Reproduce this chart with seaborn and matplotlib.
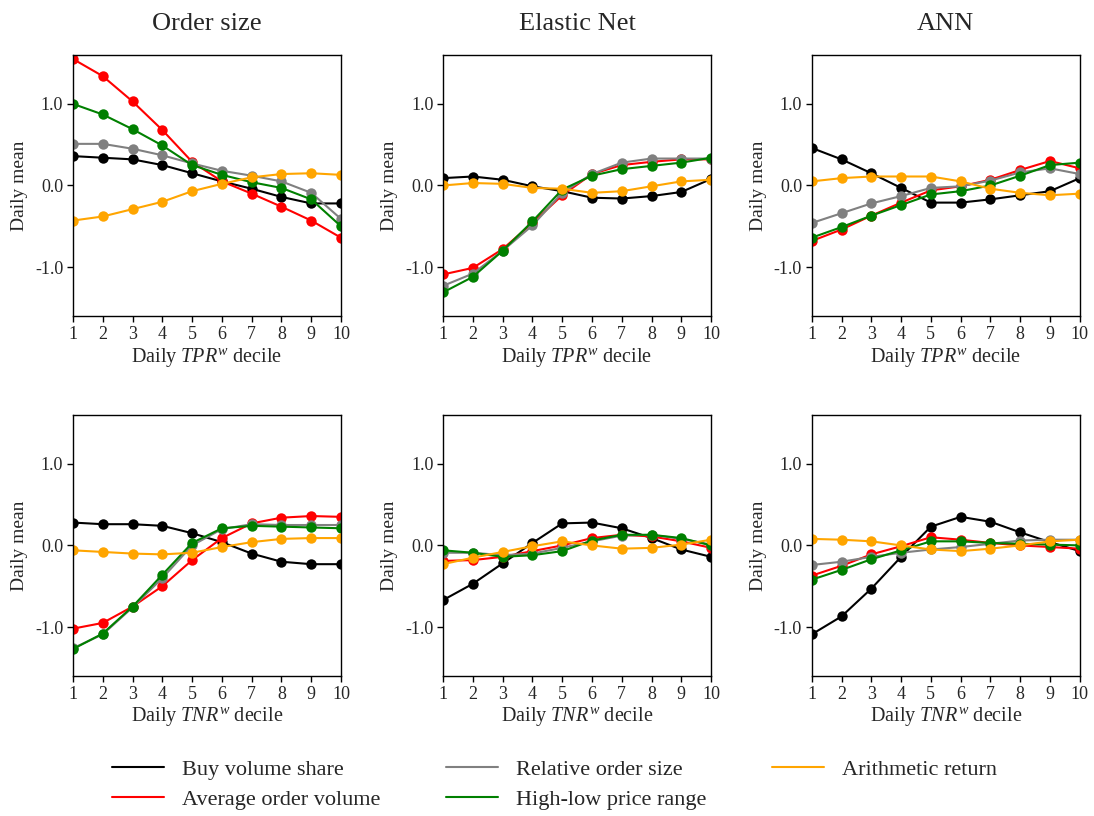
import numpy as np
import pandas as pd
import matplotlib
matplotlib.use("Agg")
import matplotlib.pyplot as plt
from matplotlib.lines import Line2D
from matplotlib.ticker import FixedLocator, FuncFormatter
import seaborn as sns

sns.set_style("ticks")
plt.rcParams["font.family"] = ["Liberation Serif", "DejaVu Serif"]
plt.rcParams["mathtext.fontset"] = "custom"
plt.rcParams["mathtext.rm"] = "Liberation Serif"
plt.rcParams["mathtext.it"] = "Liberation Serif:italic"
plt.rcParams["axes.unicode_minus"] = False

deciles = list(range(1, 10 + 1))
models = ["Order size", "Elastic Net", "ANN"]
targets = ["TPR", "TNR"]
series = ["Buy volume share", "Average order volume", "Relative order size",
          "High-low price range", "Arithmetic return"]
colors = {"Buy volume share": "black", "Average order volume": "red",
          "Relative order size": "grey", "High-low price range": "green",
          "Arithmetic return": "orange"}

# ---- TPR deciles ----
order_tpr_buy = [0.36, 0.34, 0.32, 0.25, 0.15, 0.05, -0.04, -0.14, -0.22, -0.22]
order_tpr_avg = [1.55, 1.34, 1.03, 0.68, 0.29, 0.05, -0.10, -0.26, -0.43, -0.64]
order_tpr_rel = [0.51, 0.51, 0.45, 0.37, 0.27, 0.18, 0.12, 0.05, -0.09, -0.41]
order_tpr_hl = [1.00, 0.87, 0.69, 0.49, 0.25, 0.13, 0.04, -0.03, -0.17, -0.50]
order_tpr_ret = [-0.43, -0.38, -0.29, -0.20, -0.07, 0.02, 0.10, 0.14, 0.15, 0.13]

enet_tpr_buy = [0.09, 0.11, 0.07, -0.01, -0.07, -0.15, -0.16, -0.13, -0.08, 0.08]
enet_tpr_avg = [-1.09, -1.01, -0.78, -0.46, -0.12, 0.14, 0.25, 0.29, 0.32, 0.32]
enet_tpr_rel = [-1.23, -1.08, -0.80, -0.49, -0.09, 0.14, 0.28, 0.33, 0.33, 0.33]
enet_tpr_hl = [-1.31, -1.12, -0.80, -0.44, -0.05, 0.12, 0.20, 0.24, 0.28, 0.34]
enet_tpr_ret = [0.00, 0.03, 0.02, -0.03, -0.04, -0.09, -0.07, -0.01, 0.05, 0.07]

ann_tpr_buy = [0.46, 0.32, 0.15, -0.03, -0.21, -0.21, -0.17, -0.12, -0.07, 0.09]
ann_tpr_avg = [-0.68, -0.54, -0.37, -0.21, -0.06, -0.01, 0.07, 0.19, 0.30, 0.21]
ann_tpr_rel = [-0.46, -0.34, -0.22, -0.13, -0.03, -0.01, 0.06, 0.16, 0.21, 0.14]
ann_tpr_hl = [-0.64, -0.51, -0.37, -0.24, -0.11, -0.07, 0.00, 0.12, 0.25, 0.28]
ann_tpr_ret = [0.05, 0.09, 0.11, 0.11, 0.11, 0.05, -0.04, -0.09, -0.12, -0.10]

# ---- TNR deciles ----
order_tnr_buy = [0.28, 0.26, 0.26, 0.24, 0.15, 0.04, -0.10, -0.20, -0.23, -0.23]
order_tnr_avg = [-1.02, -0.95, -0.75, -0.50, -0.18, 0.09, 0.27, 0.34, 0.36, 0.35]
order_tnr_rel = [-1.26, -1.09, -0.76, -0.40, 0.00, 0.20, 0.26, 0.25, 0.25, 0.25]
order_tnr_hl = [-1.27, -1.08, -0.75, -0.36, 0.03, 0.21, 0.24, 0.23, 0.22, 0.21]
order_tnr_ret = [-0.06, -0.08, -0.10, -0.11, -0.09, -0.02, 0.04, 0.08, 0.09, 0.09]

enet_tnr_buy = [-0.67, -0.47, -0.22, 0.03, 0.27, 0.28, 0.21, 0.09, -0.05, -0.14]
enet_tnr_avg = [-0.19, -0.18, -0.14, -0.07, 0.00, 0.09, 0.13, 0.11, 0.05, -0.03]
enet_tnr_rel = [-0.09, -0.09, -0.12, -0.10, -0.03, 0.05, 0.12, 0.13, 0.08, 0.01]
enet_tnr_hl = [-0.06, -0.09, -0.14, -0.12, -0.07, 0.06, 0.13, 0.13, 0.09, 0.00]
enet_tnr_ret = [-0.23, -0.15, -0.08, -0.01, 0.05, 0.00, -0.04, -0.03, 0.01, 0.07]

ann_tnr_buy = [-1.09, -0.87, -0.53, -0.14, 0.23, 0.35, 0.29, 0.16, 0.04, -0.07]
ann_tnr_avg = [-0.37, -0.25, -0.11, -0.01, 0.10, 0.07, 0.03, 0.00, -0.02, -0.04]
ann_tnr_rel = [-0.24, -0.20, -0.14, -0.09, -0.05, -0.02, 0.02, 0.06, 0.07, 0.07]
ann_tnr_hl = [-0.42, -0.30, -0.17, -0.06, 0.05, 0.05, 0.03, 0.02, 0.01, 0.00]
ann_tnr_ret = [0.08, 0.07, 0.05, 0.00, -0.05, -0.07, -0.04, 0.00, 0.05, 0.07]

panels = {
    ("TPR", "Order size"): [order_tpr_buy, order_tpr_avg, order_tpr_rel, order_tpr_hl, order_tpr_ret],
    ("TPR", "Elastic Net"): [enet_tpr_buy, enet_tpr_avg, enet_tpr_rel, enet_tpr_hl, enet_tpr_ret],
    ("TPR", "ANN"): [ann_tpr_buy, ann_tpr_avg, ann_tpr_rel, ann_tpr_hl, ann_tpr_ret],
    ("TNR", "Order size"): [order_tnr_buy, order_tnr_avg, order_tnr_rel, order_tnr_hl, order_tnr_ret],
    ("TNR", "Elastic Net"): [enet_tnr_buy, enet_tnr_avg, enet_tnr_rel, enet_tnr_hl, enet_tnr_ret],
    ("TNR", "ANN"): [ann_tnr_buy, ann_tnr_avg, ann_tnr_rel, ann_tnr_hl, ann_tnr_ret],
}

fig = plt.figure(figsize=(10.94, 8.16), dpi=100)
lefts = [0.0667, 0.405, 0.742]
bottoms = {"TPR": 0.6127, "TNR": 0.1716}
width, height = 0.245, 0.32

for target in targets:
    for j, model in enumerate(models):
        ax = fig.add_axes([lefts[j], bottoms[target], width, height])
        rows = []
        for name, vals in zip(series, panels[(target, model)]):
            for d, v in zip(deciles, vals):
                rows.append({"decile": d, "value": v, "series": name})
        df = pd.DataFrame(rows)
        for name in series:
            sub = df[df["series"] == name]
            sns.lineplot(data=sub, x="decile", y="value", ax=ax, color=colors[name],
                         marker="o", markersize=7.5, markeredgewidth=0,
                         linewidth=1.5, legend=False)
        ax.set_xlim(1, 10)
        ax.set_ylim(-1.6, 1.6)
        ax.xaxis.set_major_locator(FixedLocator(deciles))
        ax.yaxis.set_major_locator(FixedLocator([-1.0, 0.0, 1.0]))
        ax.yaxis.set_major_formatter(FuncFormatter(lambda v, p: f"{v:.1f}"))
        ax.tick_params(labelsize=13, length=4, width=1, color="black", pad=3)
        for sp in ax.spines.values():
            sp.set_linewidth(1.0)
            sp.set_color("black")
        ax.set_ylabel("Daily mean", fontsize=14, labelpad=5)
        ax.set_xlabel(f"Daily ${target}^w$ decile", fontsize=14.5, labelpad=2)
        if target == "TPR":
            ax.set_title(model, fontsize=19, pad=18)

handles = [Line2D([0], [0], color=colors[n], lw=1.5) for n in series]
fig.legend(handles, series, loc="center", bbox_to_anchor=(0.507, 0.0386), ncol=3,
           frameon=False, fontsize=16, handlelength=2.35, columnspacing=2.95,
           handletextpad=0.8, labelspacing=0.45)

fig.savefig("out.png", dpi=100)
